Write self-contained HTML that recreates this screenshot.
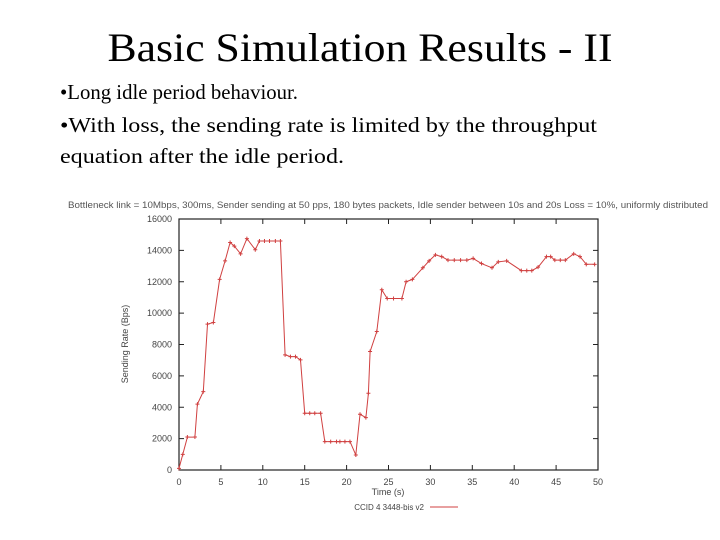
<!DOCTYPE html>
<html><head><meta charset="utf-8"><style>
body{margin:0;background:#fff;}
svg{display:block;}
</style></head><body>
<svg id="c" width="720" height="540" xmlns="http://www.w3.org/2000/svg">
<text x="360" y="61" text-anchor="middle" font-family="Liberation Serif, serif" font-size="40" textLength="505" lengthAdjust="spacingAndGlyphs">Basic Simulation Results - II</text>
<text x="60" y="99" font-family="Liberation Serif, serif" font-size="21" textLength="238" lengthAdjust="spacingAndGlyphs">•Long idle period behaviour.</text>
<text x="60" y="132" font-family="Liberation Serif, serif" font-size="21" textLength="537" lengthAdjust="spacingAndGlyphs">•With loss, the sending rate is limited by the throughput</text>
<text x="60" y="163" font-family="Liberation Serif, serif" font-size="21" textLength="284" lengthAdjust="spacingAndGlyphs">equation after the idle period.</text>
<text x="388" y="208" text-anchor="middle" font-family="Liberation Sans, sans-serif" font-size="9" fill="#555" textLength="640" lengthAdjust="spacingAndGlyphs">Bottleneck link = 10Mbps, 300ms, Sender sending at 50 pps, 180 bytes packets, Idle sender between 10s and 20s Loss = 10%, uniformly distributed</text>
<g id="plot"></g>
</svg>
<script>
const xTicks=[0,5,10,15,20,25,30,35,40,45,50];
const yTicks=[0,2000,4000,6000,8000,10000,12000,14000,16000];
const times=[0,0.45,1,1.9,2.2,2.9,3.4,4.1,4.85,5.5,6.1,6.6,7.35,8.1,9.1,9.6,10.2,10.8,11.5,12.1,12.66,13.3,13.9,14.5,15.0,15.6,16.2,16.9,17.4,18.1,18.8,19.2,19.8,20.4,21.1,21.6,22.3,22.6,22.8,23.6,24.2,24.85,25.6,26.6,27.1,27.85,29.1,29.85,30.6,31.35,32.1,32.85,33.6,34.35,35.1,36.1,37.35,38.1,39.1,40.85,41.5,42.1,42.85,43.85,44.35,44.85,45.5,46.1,47.1,47.85,48.6,49.6];
const rates=[100,1000,2100,2100,4200,5000,9300,9400,12150,13330,14500,14270,13780,14750,14040,14600,14600,14600,14600,14600,7340,7230,7230,7020,3620,3620,3620,3620,1810,1810,1810,1810,1810,1810,960,3550,3340,4890,7550,8830,11490,10930,10930,10930,12000,12150,12890,13330,13710,13600,13380,13380,13380,13380,13490,13160,12890,13270,13330,12710,12710,12710,12930,13600,13600,13380,13380,13380,13780,13600,13110,13110];
const L=179,R=598,T=219,B=470;
const xs=v=>L+(v-0)/(50-0)*(R-L);
const ys=v=>B-(v/16000)*(B-T);
const NS="http://www.w3.org/2000/svg";
const g=document.getElementById('plot');
function mk(t,a){const e=document.createElementNS(NS,t);for(const k in a)e.setAttribute(k,a[k]);g.appendChild(e);return e;}
const frame=mk('rect',{x:L,y:T,width:R-L,height:B-T,fill:'none',stroke:'#222','stroke-width':1.2});


xTicks.forEach(t=>{
 const x=xs(t);
 const a=mk('line',{x1:x,x2:x,y1:B,y2:B-5,stroke:'#222'});
 
 
 const b=mk('line',{x1:x,x2:x,y1:T,y2:T+5,stroke:'#222'});
 
 
 const tx=mk('text',{x:x,y:B+15,'text-anchor':'middle','font-family':'Liberation Sans, sans-serif','font-size':9,fill:'#444'});
 tx.textContent=t;
 
 
});
yTicks.forEach(t=>{
 const y=ys(t);
 const a=mk('line',{x1:L,x2:L+5,y1:y,y2:y,stroke:'#222'});
 
 
 const b=mk('line',{x1:R,x2:R-5,y1:y,y2:y,stroke:'#222'});
 
 
 const tx=mk('text',{x:L-7,y:y+3,'text-anchor':'end','font-family':'Liberation Sans, sans-serif','font-size':9,fill:'#444'});
 tx.textContent=t;
 
 
});
const yl=mk('text',{x:0,y:0,transform:'translate(128,344) rotate(-90)','text-anchor':'middle','font-family':'Liberation Sans, sans-serif','font-size':9,fill:'#444'});
yl.textContent='Sending Rate (Bps)';


const xl=mk('text',{x:388,y:495,'text-anchor':'middle','font-family':'Liberation Sans, sans-serif','font-size':9,fill:'#444'});
xl.textContent='Time (s)';


const lt=mk('text',{x:424,y:510,'text-anchor':'end','font-family':'Liberation Sans, sans-serif','font-size':8,fill:'#444'});
lt.textContent='CCID 4 3448-bis v2';


const ll=mk('line',{x1:430,x2:458,y1:507,y2:507,stroke:'#d04040','stroke-width':1});


const pts=times.map((t,i)=>xs(t).toFixed(1)+','+ys(rates[i]).toFixed(1)).join(' ');
const pl=mk('polyline',{points:pts,fill:'none',stroke:'#d04040','stroke-width':1});


times.forEach((t,i)=>{
 const x=xs(t),y=ys(rates[i]);
 const m=mk('path',{d:`M${x-2},${y}H${x+2}M${x},${y-2}V${y+2}`,stroke:'#d04040','stroke-width':1});
 
 
});
</script>
</body></html>
